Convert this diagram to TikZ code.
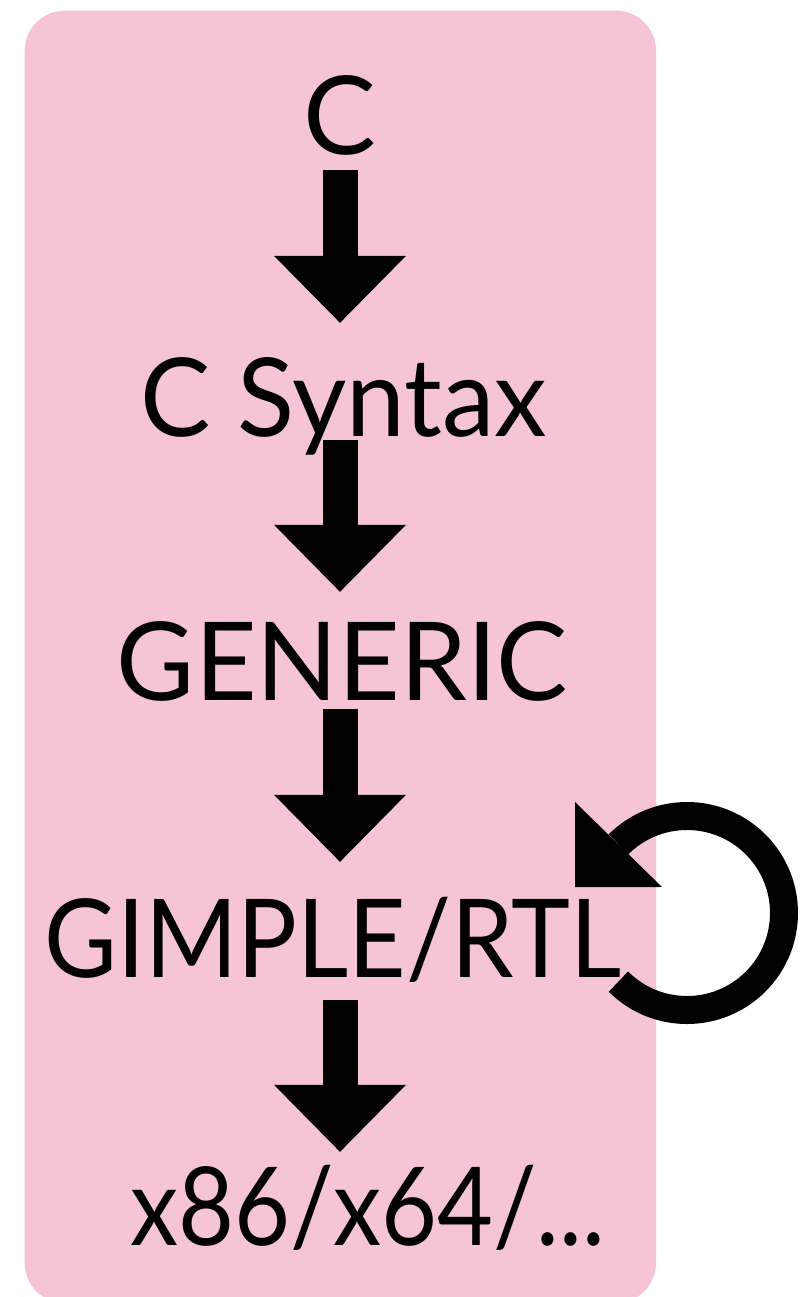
\documentclass[tikz,border=0pt]{standalone}
\usepackage{fontspec}
\setmainfont{Lato}
\usetikzlibrary{arrows.meta,calc}
\definecolor{boxpink}{HTML}{F6C4D7}
\begin{document}
\begin{tikzpicture}[x=1pt,y=1pt,
  lbl/.style={inner sep=0pt, text height=78pt, text depth=0pt, font=\fontsize{109}{120}\selectfont},
  blk/.style={line width=35pt, -{Triangle[width=132pt,length=67pt,line width=0pt]}}]
\useasboundingbox (0,0) rectangle (807,-1297);
\fill[boxpink, rounded corners=40pt] (24.7,-10.7) rectangle (656,-1303);
\node[lbl, anchor=base] (c)   at (340,-155)   {C};
\node[lbl, anchor=base] (syn) at (343.5,-436) {\scalebox{0.966}[1]{C Syntax}};
\node[lbl, anchor=base] (gen) at (342.5,-700) {\scalebox{0.98}[1]{GENERIC}};
\node[lbl, anchor=base] (gim) at (333,-977)   {\scalebox{0.915}[1]{GIMPLE/RTL}};
\node[lbl, anchor=base] (x86) at (368,-1245)  {\scalebox{0.885}[1]{x86/x64/...}};
\draw[blk, shorten <=15pt, shorten >=35pt] (c.south) -- (c.south |- syn.north);
\draw[blk, shorten <=4pt, shorten >=30pt] (c.south |- syn.south) -- (c.south |- gen.north);
\draw[blk, shorten <=9pt, shorten >=37pt] (c.south |- gen.south) -- (c.south |- gim.north);
\draw[blk, shorten <=23pt, shorten >=15pt] (c.south |- gim.south) -- (c.south |- x86.north);
\coordinate (loopc) at (687,-913);
\draw[line width=28pt] ($(loopc)+(225:97)$) arc[start angle=225, end angle=495, radius=97];
\fill ($(loopc)+(-112,111)$) -- ($(loopc)+(-112,26)$) -- ($(loopc)+(-25,26)$) -- cycle;
\end{tikzpicture}
\end{document}
